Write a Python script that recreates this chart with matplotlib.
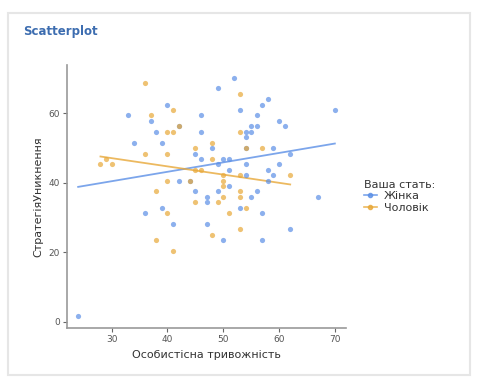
import numpy as np
import matplotlib.pyplot as plt
from matplotlib.patches import Rectangle
from matplotlib.lines import Line2D

# anxiety score vs avoidance strategy, by gender
female_x = [24, 33, 34, 36, 37, 38, 39, 39, 40, 41, 42, 42, 44, 45, 45, 46, 46, 46, 47, 47,
            47, 48, 49, 49, 49, 50, 50, 51, 51, 51, 52, 53, 53, 54, 54, 54, 54, 54, 55, 55,
            55, 56, 56, 56, 57, 57, 57, 58, 58, 58, 59, 59, 60, 60, 61, 62, 62, 67, 70]
female_y = [1.6, 59.4, 51.5, 31.3, 57.8, 54.7, 51.5, 32.8, 62.5, 28.2, 56.2, 40.6, 40.6, 48.4,
            37.5, 59.4, 54.7, 46.8, 35.9, 34.4, 28.2, 50.0, 67.2, 45.3, 37.5, 46.8, 23.4, 46.8,
            43.8, 39.1, 70.3, 61.0, 32.8, 54.7, 53.1, 50.0, 45.3, 42.2, 56.2, 54.7, 35.9, 59.4,
            56.2, 37.5, 62.5, 31.3, 23.4, 64.1, 43.8, 40.6, 50.0, 42.2, 57.8, 45.3, 56.2, 48.4,
            26.6, 35.9, 61.0]

male_x = [28, 29, 30, 36, 36, 37, 38, 38, 40, 40, 40, 40, 41, 41, 41, 42, 44, 45, 45, 45,
          46, 48, 48, 48, 49, 50, 50, 50, 50, 51, 53, 53, 53, 53, 53, 53, 54, 54, 57, 62]
male_y = [45.3, 46.8, 45.3, 68.7, 48.4, 59.4, 37.5, 23.4, 54.7, 48.4, 40.6, 31.3, 61.0, 54.7,
          20.4, 56.2, 40.6, 50.0, 43.8, 34.4, 43.8, 51.5, 46.8, 25.0, 34.4, 42.2, 40.6, 39.1,
          35.9, 31.3, 65.6, 54.7, 42.2, 37.5, 35.9, 26.6, 50.0, 32.8, 50.0, 42.2]

groups = ['Жінка', 'Чоловік']
colors = ['#5b8fe6', '#e8a838']

fig = plt.figure(figsize=(4.83, 3.80), dpi=100)

# panel frame
fig.patches.append(Rectangle((8 / 483, 5 / 380), 462 / 483, 362 / 380, transform=fig.transFigure,
                             fill=False, edgecolor='#e6e6e6', linewidth=1.5))
fig.text(23 / 483, 1 - 32 / 380, 'Scatterplot', color='#3d6db0', fontsize=8.5,
         fontweight='bold', va='center', ha='left')

ax = fig.add_axes([67 / 483, 1 - 328 / 380, (346 - 67) / 483, (328 - 65) / 380])

for xs, ys, c in zip([female_x, male_x], [female_y, male_y], colors):
    xs = np.array(xs)
    ys = np.array(ys)
    ax.scatter(xs, ys, s=14, color=c, alpha=0.7, linewidths=0, zorder=3)
    k, b = np.polyfit(xs, ys, 1)
    xl = np.array([xs.min(), xs.max()])
    ax.plot(xl, k * xl + b, color=c, alpha=0.8, linewidth=1.3, zorder=2)

ax.set_xlim(22, 72)
ax.set_ylim(-1.8, 73.9)
ax.set_xticks([30, 40, 50, 60, 70])
ax.set_yticks([0, 20, 40, 60])
for side in ['top', 'right']:
    ax.spines[side].set_visible(False)
for side in ['left', 'bottom']:
    ax.spines[side].set_color('#999999')
    ax.spines[side].set_linewidth(1.2)
ax.tick_params(length=3, width=0.8, color='#666666', labelsize=6.5, labelcolor='#555555', pad=2)
ax.set_xlabel('Особистісна тривожність', fontsize=8, color='#333333', labelpad=4)
ax.set_ylabel('СтратегіяУникнення', fontsize=8, color='#333333', labelpad=4)

handles = [Line2D([], [], color=c, marker='o', markersize=3, linewidth=1.2, alpha=0.8)
           for c in colors]
leg = fig.legend(handles, groups, title='Ваша стать:', loc='upper left',
                 bbox_to_anchor=(358 / 483, 1 - 174 / 380), frameon=False, fontsize=8,
                 title_fontsize=8, handlelength=1.2, handletextpad=0.6, labelspacing=0.15,
                 borderpad=0, alignment='left')
leg.get_title().set_color('#333333')
for t in leg.get_texts():
    t.set_color('#333333')

fig.savefig('out.png', dpi=100)
